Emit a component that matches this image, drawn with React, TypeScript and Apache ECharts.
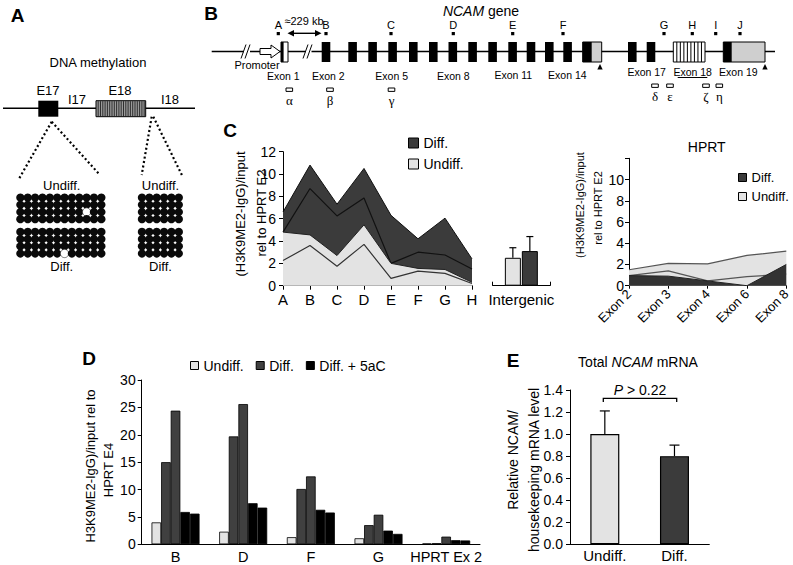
import React, { useEffect, useRef } from "react";
import * as echarts from "echarts";

// ---------------- DATA ----------------
// Panel C (NCAM, H3K9me2 ChIP)
const cCategories = ["A", "B", "C", "D", "E", "F", "G", "H"];
const cDiffUpper = [6.6, 10.8, 7.3, 10.5, 6.3, 4.2, 6.05, 2.4];
const cDiffLower = [4.8, 8.7, 6.25, 7.85, 2.0, 3.0, 2.75, 1.5];
const cUndiffUpper = [4.8, 4.55, 2.7, 5.45, 2.0, 1.55, 1.45, 0.3];
const cUndiffLower = [2.25, 3.6, 1.75, 3.7, 0.65, 1.3, 1.1, 0.2];
const intergenicCategories = ["Intergenic"];
const intergenicUndiff = [2.5];
const intergenicUndiffErr = [0.9];
const intergenicDiff = [3.1];
const intergenicDiffErr = [1.3];

// Panel C right (HPRT)
const hprtCategories = ["Exon 2", "Exon 3", "Exon 4", "Exon 6", "Exon 8"];
const hprtUndiffUpper = [1.5, 2.1, 2.05, 2.85, 3.25];
const hprtUndiffLower = [0.95, 1.4, 0.45, 0.85, 1.1];
const hprtDiff = [0.95, 0.9, 0.45, 0, 2.0];

// Panel D
const dCategories = ["B", "D", "F", "G", "HPRT Ex 2"];
const dUndiff = [4.0, 2.3, 1.3, 1.1, 0.15];
const dDiffRep1 = [15.0, 19.7, 10.1, 3.5, 0.2];
const dDiffRep2 = [24.4, 25.6, 12.4, 5.4, 1.4];
const d5aCRep1 = [5.9, 7.5, 6.3, 2.5, 0.75];
const d5aCRep2 = [5.6, 6.7, 5.8, 1.9, 0.7];

// Panel E
const eCategories = ["Undiff.", "Diff."];
const eMeans = [1.0, 0.8];
const eErrors = [0.21, 0.1];
const ePText = "> 0.22";

// Panel A methylation (unmethylated CpG positions [row, col])
const methBlocks = [
  { label: "Undiff.", cols: 12, unmeth: [[2, 9]] },
  { label: "Diff.", cols: 12, unmeth: [[3, 6]] },
  { label: "Undiff.", cols: 6, unmeth: [] as number[][] },
  { label: "Diff.", cols: 6, unmeth: [] as number[][] },
];

// ---------------- STYLE ----------------
const FONT = "'Liberation Sans', Arial, Helvetica, sans-serif";
const SERIF = "'Liberation Serif', 'DejaVu Serif', serif";
const DARK = "#3b3b3b";
const LIGHT = "#e3e3e3";
const BLACK = "#000";

function buildGraphics(): any[] {
  const G: any[] = [];
  const txt = (text: string, x: number, y: number, size: number, o: any = {}) =>
    G.push({
      type: "text",
      x,
      y,
      rotation: o.rotation || 0,
      silent: true,
      style: {
        text,
        fontSize: size,
        fontFamily: o.family || FONT,
        fontWeight: o.weight || "normal",
        fontStyle: o.fontStyle || "normal",
        fill: BLACK,
        align: o.align || "center",
        verticalAlign: "middle",
        rich: o.rich,
      },
    });
  const line = (x1: number, y1: number, x2: number, y2: number, w = 1, dash?: number[]) =>
    G.push({
      type: "line",
      silent: true,
      shape: { x1, y1, x2, y2 },
      style: { stroke: BLACK, lineWidth: w, lineDash: dash },
    });
  const rect = (x: number, y: number, w: number, h: number, fill: string, stroke?: string, lw = 1) =>
    G.push({
      type: "rect",
      silent: true,
      shape: { x, y, width: w, height: h },
      style: { fill, stroke: stroke || null, lineWidth: lw },
    });
  const poly = (points: number[][], fill: string, stroke?: string) =>
    G.push({ type: "polygon", silent: true, shape: { points }, style: { fill, stroke: stroke || null, lineWidth: 1 } });

  // panel letters
  const letters: [string, number, number][] = [
    ["A", 17.5, 15],
    ["B", 211, 13],
    ["C", 230, 130],
    ["D", 89, 358],
    ["E", 513, 360],
  ];
  letters.forEach(([t, x, y]) => txt(t, x, y, 19, { weight: "bold" }));

  // ---------- Panel A ----------
  txt("DNA methylation", 98, 62, 13);
  line(3, 108.3, 195, 108.3, 1.5);
  rect(38.3, 100.7, 20, 16, BLACK);
  rect(96, 100.7, 49.7, 16, "#9a9a9a", BLACK, 1);
  for (let x = 98.2; x < 145; x += 2.3) line(x, 101.2, x, 116.2, 0.7);
  txt("E17", 48, 90, 13);
  txt("I17", 77, 99, 13);
  txt("E18", 120, 90, 13);
  txt("I18", 170, 99, 13);
  line(51.7, 121.7, 18.3, 180, 2.2, [2, 2.5]);
  line(51.7, 121.7, 100, 175, 2.2, [2, 2.5]);
  line(151.7, 116.7, 141.7, 175, 2.2, [2, 2.5]);
  line(153.3, 116.7, 182.7, 176.7, 2.2, [2, 2.5]);
  const blockPos = [
    [16.7, 194],
    [16.7, 228.3],
    [138.3, 194],
    [138.3, 228.3],
  ];
  methBlocks.forEach((b, bi) => {
    const [x0, y0] = blockPos[bi];
    for (let r = 0; r < 4; r++) {
      for (let c = 0; c < b.cols; c++) {
        const un = b.unmeth.some((p) => p[0] === r && p[1] === c);
        G.push({
          type: "circle",
          silent: true,
          shape: { cx: x0 + (c + 0.5) * 7.36, cy: y0 + (r + 0.5) * 7.2, r: 4.15 },
          style: { fill: un ? "#fff" : "#0a0a0a", stroke: un ? "#222" : null, lineWidth: 0.6 },
        });
      }
    }
  });
  txt("Undiff.", 61.7, 185, 13);
  txt("Diff.", 61.7, 266.7, 13);
  txt("Undiff.", 160.5, 185, 13);
  txt("Diff.", 160.5, 266.7, 13);

  // ---------- Panel B: NCAM gene ----------
  txt("{i|NCAM} gene", 481, 11, 14, {
    rich: { i: { fontStyle: "italic", fontSize: 14, fontFamily: FONT, fill: BLACK } },
  });
  const yL = 51.5;
  line(211.7, yL, 244, yL, 1.5);
  line(250, yL, 305.5, yL, 1.5);
  line(311.5, yL, 775, yL, 1.5);
  line(241, 58.5, 246, 44.5, 1);
  line(245, 58.5, 250, 44.5, 1);
  line(303, 58.5, 308, 44.5, 1);
  line(307, 58.5, 312, 44.5, 1);
  poly(
    [
      [260, 48.5],
      [271, 48.5],
      [271, 45],
      [280, 51.5],
      [271, 58],
      [271, 54.5],
      [260, 54.5],
    ],
    "#fff",
    BLACK
  );
  txt("Promoter", 257, 64.5, 11);
  // exon 1
  rect(281, 42, 7, 20, "#fff", BLACK, 1);
  rect(281, 42, 2.6, 20, BLACK);
  // exons 2-14 and others
  const exonStarts = [321.7, 348.3, 368.3, 388.3, 409, 429, 448.5, 468.3, 488.3, 508.3, 526.7, 545, 563.3, 628, 646.7];
  exonStarts.forEach((s) => rect(s, 42, 8.6, 20, BLACK));
  // exon 15 with UTR
  rect(582.7, 42, 19, 20, "#cfcfcf", BLACK, 1);
  rect(582.7, 42, 9, 20, BLACK);
  // exon 18 striped
  rect(673.3, 42, 31.7, 20, "#fff", BLACK, 1);
  for (let k = 1; k <= 8; k++) line(673.3 + k * 3.52, 42, 673.3 + k * 3.52, 62, 1);
  // exon 19
  rect(723.3, 42, 41.7, 20, "#cfcfcf", BLACK, 1);
  rect(723.3, 42, 8.4, 20, BLACK);
  // polyA triangles
  poly(
    [
      [597.3, 69.5],
      [600, 64],
      [602.7, 69.5],
    ],
    BLACK
  );
  poly(
    [
      [762.3, 69.5],
      [765, 64],
      [767.7, 69.5],
    ],
    BLACK
  );
  // ChIP amplicon markers
  const markers: [string, number][] = [
    ["A", 278.3],
    ["B", 326],
    ["C", 391],
    ["D", 453.3],
    ["E", 512.7],
    ["F", 563],
    ["G", 664],
    ["H", 692.3],
    ["I", 715.7],
    ["J", 740],
  ];
  markers.forEach(([t, x]) => {
    txt(t, x, 25, 11);
    rect(x - 1.6, 32, 3.2, 3.2, BLACK);
  });
  // 229 kb arrow
  txt("≈229 kb", 304, 21, 11);
  line(291, 33.3, 318, 33.3, 1.4);
  poly(
    [
      [287.5, 33.3],
      [294, 30],
      [294, 36.6],
    ],
    BLACK
  );
  poly(
    [
      [321.5, 33.3],
      [315, 30],
      [315, 36.6],
    ],
    BLACK
  );
  // exon labels
  const exonLabels: [string, number, number][] = [
    ["Exon 1", 283.3, 75.5],
    ["Exon 2", 328.3, 75.5],
    ["Exon 5", 391.7, 75.5],
    ["Exon 8", 453.3, 75.5],
    ["Exon 11", 513.3, 75],
    ["Exon 14", 567.3, 75],
    ["Exon 17", 646.7, 72],
    ["Exon 18", 692.7, 72],
    ["Exon 19", 738.3, 72],
  ];
  exonLabels.forEach(([t, x, y]) => txt(t, x, y, 10.5));
  line(677.7, 77.5, 707.3, 77.5, 1);
  // probes
  const probes: [string, number, number][] = [
    ["α", 286, 88],
    ["β", 326.7, 88],
    ["γ", 388.2, 88],
    ["δ", 651.7, 84],
    ["ε", 666.7, 84],
    ["ζ", 702.7, 84],
    ["η", 716, 84],
  ];
  probes.forEach(([t, x, y]) => {
    rect(x, y, 6.6, 3.4, "#fff", BLACK, 1);
    txt(t, x + 3.3, y + 12, 13, { family: SERIF });
  });

  // ---------- axis titles ----------
  const R = Math.PI / 2;
  txt("(H3K9ME2-IgG)/input", 240, 214, 13, { rotation: R });
  txt("rel to HPRT E2", 261.7, 213, 13, { rotation: R });
  txt("(H3K9ME2-IgG)/input", 580, 205, 11, { rotation: R });
  txt("rel to HPRT E2", 597.5, 208, 11, { rotation: R });
  txt("H3K9ME2-IgG)/input rel to", 90, 466, 13, { rotation: R });
  txt("HPRT E4", 108.3, 470, 13, { rotation: R });
  txt("Relative NCAM/", 513, 460, 14, { rotation: R });
  txt("housekeeping mRNA level", 533.5, 470, 14, { rotation: R });

  // titles
  txt("HPRT", 706.7, 147, 14);
  txt("Total {i|NCAM} mRNA", 638, 362, 14, {
    rich: { i: { fontStyle: "italic", fontSize: 14, fontFamily: FONT, fill: BLACK } },
  });
  // P value bracket
  G.push({
    type: "polyline",
    silent: true,
    shape: {
      points: [
        [603.3, 402],
        [603.3, 398.3],
        [676.7, 398.3],
        [676.7, 402],
      ],
    },
    style: { stroke: BLACK, lineWidth: 1.3, fill: null },
  });
  txt("{i|P} " + ePText, 640, 389.5, 14, {
    rich: { i: { fontStyle: "italic", fontSize: 14, fontFamily: FONT, fill: BLACK } },
  });
  return G;
}

function errorBars(xi: number, yi: number, means: number[], errs: number[], offset: number, capHalf: number) {
  return {
    type: "custom",
    xAxisIndex: xi,
    yAxisIndex: yi,
    z: 3,
    silent: true,
    data: means.map((m, i) => [i, m, m + errs[i]]),
    encode: { x: 0, y: [1, 2] },
    renderItem: (_p: any, api: any) => {
      const p0 = api.coord([api.value(0), api.value(1)]);
      const p1 = api.coord([api.value(0), api.value(2)]);
      const x = p0[0] + offset;
      return {
        type: "group",
        children: [
          { type: "line", shape: { x1: x, y1: p0[1], x2: x, y2: p1[1] }, style: { stroke: BLACK, lineWidth: 1.2 } },
          {
            type: "line",
            shape: { x1: x - capHalf, y1: p1[1], x2: x + capHalf, y2: p1[1] },
            style: { stroke: BLACK, lineWidth: 1.2 },
          },
        ],
      };
    },
  };
}

function buildOption(): any {
  const axisLine = { show: true, lineStyle: { color: BLACK, width: 1 } };
  const tickOut = { show: true, length: 4, lineStyle: { color: BLACK } };
  const lbl = (size: number, margin: number, extra: any = {}) => ({
    fontSize: size,
    margin,
    color: BLACK,
    fontFamily: FONT,
    ...extra,
  });
  const lineS = (name: string, xi: number, data: number[], color: string, z: number, fill?: string, w = 1) => ({
    type: "line",
    name,
    xAxisIndex: xi,
    yAxisIndex: xi,
    data,
    symbol: "none",
    z,
    silent: true,
    lineStyle: { color, width: w },
    areaStyle: fill ? { color: fill, opacity: 1 } : undefined,
  });
  const barS = (name: string, data: number[], color: string) => ({
    type: "bar",
    name,
    xAxisIndex: 3,
    yAxisIndex: 3,
    data,
    barWidth: 9.6,
    barGap: "0%",
    z: 2,
    itemStyle: { color, borderColor: BLACK, borderWidth: 0.8 },
  });
  const legendItem = (name: string, color: string) => ({
    name,
    itemStyle: { color, borderColor: BLACK, borderWidth: 1 },
  });

  return {
    animation: false,
    backgroundColor: "#fff",
    textStyle: { fontFamily: FONT },
    grid: [
      { left: 283, top: 151.7, width: 189, height: 134 },
      { left: 492.7, top: 151.7, width: 57.3, height: 134 },
      { left: 629, top: 158.3, width: 157.7, height: 127.4 },
      { left: 141.7, top: 380, width: 338.3, height: 164.3 },
      { left: 570, top: 390, width: 139.3, height: 154.3 },
    ],
    legend: [
      {
        orient: "vertical",
        left: 403,
        top: 131,
        itemWidth: 10,
        itemHeight: 10,
        itemGap: 7,
        icon: "rect",
        selectedMode: false,
        textStyle: { fontSize: 14, color: BLACK, fontFamily: FONT },
        data: [legendItem("Diff.", DARK), legendItem("Undiff.", LIGHT)],
      },
      {
        orient: "vertical",
        left: 733,
        top: 166,
        itemWidth: 8,
        itemHeight: 8,
        itemGap: 6,
        icon: "rect",
        selectedMode: false,
        textStyle: { fontSize: 13, color: BLACK, fontFamily: FONT },
        data: [legendItem("Diff.", DARK), legendItem("Undiff.", LIGHT)],
      },
      {
        orient: "horizontal",
        left: 185,
        top: 353.5,
        itemWidth: 8,
        itemHeight: 8,
        itemGap: 12,
        icon: "rect",
        selectedMode: false,
        textStyle: { fontSize: 14, color: BLACK, fontFamily: FONT },
        data: [legendItem("Undiff.", LIGHT), legendItem("Diff.", "#404040"), legendItem("Diff. + 5aC", BLACK)],
      },
    ],
    xAxis: [
      {
        gridIndex: 0,
        type: "category",
        data: cCategories,
        boundaryGap: false,
        axisLine,
        axisTick: tickOut,
        axisLabel: lbl(15, 6, { interval: 0 }),
      },
      {
        gridIndex: 1,
        type: "category",
        data: intergenicCategories,
        boundaryGap: true,
        axisLine,
        axisTick: { show: true, inside: true, length: 4, lineStyle: { color: BLACK } },
        axisLabel: lbl(15, 6, { interval: 0 }),
      },
      {
        gridIndex: 2,
        type: "category",
        data: hprtCategories,
        boundaryGap: false,
        axisLine,
        axisTick: { show: true, length: 3, lineStyle: { color: BLACK } },
        axisLabel: lbl(13, 6, { rotate: 45, interval: 0 }),
      },
      {
        gridIndex: 3,
        type: "category",
        data: dCategories,
        axisLine,
        axisTick: { show: false },
        axisLabel: lbl(14.5, 5, { interval: 0 }),
      },
      {
        gridIndex: 4,
        type: "category",
        data: eCategories,
        axisLine,
        axisTick: { show: false },
        axisLabel: lbl(15, 4, { interval: 0 }),
      },
    ],
    yAxis: [
      {
        gridIndex: 0,
        type: "value",
        min: 0,
        max: 12,
        interval: 2,
        axisLine,
        axisTick: tickOut,
        splitLine: { show: false },
        axisLabel: lbl(14, 7),
      },
      { gridIndex: 1, type: "value", min: 0, max: 12, interval: 2, show: false, splitLine: { show: false } },
      {
        gridIndex: 2,
        type: "value",
        min: 0,
        max: 12,
        interval: 2,
        axisLine,
        axisTick: tickOut,
        splitLine: { show: false },
        axisLabel: lbl(14, 5, { formatter: (v: number) => (v === 12 ? "" : String(v)) }),
      },
      {
        gridIndex: 3,
        type: "value",
        min: 0,
        max: 30,
        interval: 5,
        axisLine,
        axisTick: tickOut,
        splitLine: { show: false },
        axisLabel: lbl(14, 6),
      },
      {
        gridIndex: 4,
        type: "value",
        min: 0,
        max: 1.4,
        interval: 0.2,
        axisLine,
        axisTick: tickOut,
        splitLine: { show: false },
        axisLabel: lbl(14, 7, { formatter: (v: number) => v.toFixed(1) }),
      },
    ],
    series: [
      // C left areas
      lineS("Diff.", 0, cDiffUpper, "#111", 2, DARK),
      lineS("Diff. (low)", 0, cDiffLower, "#111", 3, undefined, 1.2),
      lineS("Undiff.", 0, cUndiffUpper, "#222", 4, LIGHT),
      lineS("Undiff. (low)", 0, cUndiffLower, "#333", 5, undefined, 1.2),
      // Intergenic
      {
        type: "bar",
        name: "Undiff.",
        xAxisIndex: 1,
        yAxisIndex: 1,
        data: intergenicUndiff,
        barWidth: 16,
        barGap: "6%",
        z: 2,
        itemStyle: { color: LIGHT, borderColor: BLACK, borderWidth: 1 },
      },
      {
        type: "bar",
        name: "Diff.",
        xAxisIndex: 1,
        yAxisIndex: 1,
        data: intergenicDiff,
        barWidth: 16,
        barGap: "6%",
        z: 2,
        itemStyle: { color: DARK, borderColor: BLACK, borderWidth: 1 },
      },
      errorBars(1, 1, intergenicUndiff, intergenicUndiffErr, -8.5, 3.5),
      errorBars(1, 1, intergenicDiff, intergenicDiffErr, 8.5, 3.5),
      // HPRT
      lineS("Undiff.", 2, hprtUndiffUpper, "#555", 2, LIGHT, 1.2),
      lineS("Undiff. (low)", 2, hprtUndiffLower, "#555", 3, undefined, 1.2),
      lineS("Diff.", 2, hprtDiff, "#222", 4, "#333"),
      // D
      barS("Undiff.", dUndiff, LIGHT),
      barS("Diff.", dDiffRep1, "#404040"),
      barS("Diff.", dDiffRep2, "#404040"),
      barS("Diff. + 5aC", d5aCRep1, BLACK),
      barS("Diff. + 5aC", d5aCRep2, BLACK),
      // E
      {
        type: "bar",
        name: "NCAM mRNA",
        xAxisIndex: 4,
        yAxisIndex: 4,
        barWidth: 29,
        z: 2,
        data: eMeans.map((v, i) => ({
          value: v,
          itemStyle: { color: i === 0 ? LIGHT : DARK, borderColor: BLACK, borderWidth: 1.2 },
        })),
      },
      errorBars(4, 4, eMeans, eErrors, 0, 5),
    ],
    graphic: buildGraphics(),
  };
}

export default function App() {
  const ref = useRef<HTMLDivElement>(null);
  useEffect(() => {
    document.body.style.margin = "0";
    const chart = echarts.init(ref.current!, null, { renderer: "svg" });
    chart.setOption(buildOption());
    return () => chart.dispose();
  }, []);
  return (
    <div
      ref={ref}
      style={{ position: "absolute", left: 0, top: 0, width: 793, height: 565, background: "#fff" }}
    />
  );
}
